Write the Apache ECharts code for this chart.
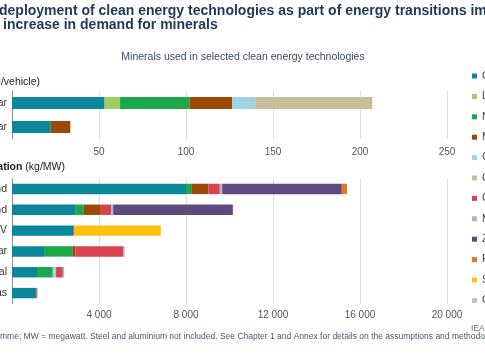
<!DOCTYPE html>
<html>
<head>
<meta charset="utf-8">
<script src="https://cdn.jsdelivr.net/npm/echarts@6/dist/echarts.min.js"></script>
<style>
html,body{margin:0;padding:0;background:#fff;overflow:hidden;}
#chart{width:485px;height:360px;}
</style>
</head>
<body>
<div id="chart"></div>
<script>
// ---- data ----
const minerals = ['Copper','Lithium','Nickel','Manganese','Cobalt','Graphite','Chromium','Molybdenum','Zinc','Rare earths','Silicon','Others'];
const transportCategories = ['Electric car','Conventional car'];
const powerCategories = ['Offshore wind','Onshore wind','Solar PV','Nuclear','Coal','Natural gas'];
// values per mineral, in the order of `minerals`
const electricCar     = [53.2, 8.9, 39.9, 24.5, 13.3, 66.3, 0, 0, 0.1, 0.5, 0, 0.3];
const conventionalCar = [22.3, 0, 0, 11.2, 0, 0, 0, 0, 0, 0, 0, 0];
const offshoreWind    = [8000, 0, 240, 790, 0, 0, 525, 109, 5500, 239, 0, 0];
const onshoreWind     = [2900, 0, 404, 780, 0, 0, 470, 99, 5500, 14, 0, 0];
const solarPV         = [2822, 0, 0, 0, 0, 0, 0, 0, 30, 0, 3990, 0];
const nuclear         = [1473, 0, 1297, 148, 0, 0, 2190, 70, 0, 0, 0, 0];
const coal            = [1150, 0, 721, 5, 150, 0, 308, 66, 0, 0, 0, 0];
const naturalGas      = [1100, 0, 16, 0, 0, 0, 48, 0, 0, 0, 0, 0];
const transportTicks = [0, 50, 100, 150, 200, 250];
const powerTicks = [0, 4000, 8000, 12000, 16000, 20000];

const colors = ['#0b879c','#9ccf5b','#1ca84a','#9c4a08','#9fd3e3','#c8bf9a','#d9434f','#b4b0cc','#5d4a7e','#e5761f','#fdc00f','#c4c4c4'];

const transportRows = [electricCar, conventionalCar];
const powerRows = [offshoreWind, onshoreWind, solarPV, nuclear, coal, naturalGas];

const FF = 'Liberation Sans, Arial, Helvetica, sans-serif';
function textW(str, font){
  const c = document.createElement('canvas').getContext('2d');
  c.font = font; return c.measureText(str).width;
}
const titleFont = 'bold 14px ' + FF;
const footFont = '8.5px ' + FF;
const legendFont = '10.5px ' + FF;
const legendBoxW = 5 + 5 + Math.max.apply(null, minerals.map(m => textW(m, legendFont)));

const series = [];
minerals.forEach((m, i) => {
  series.push({
    name: m, type: 'bar', stack: 'transport', xAxisIndex: 0, yAxisIndex: 0,
    barWidth: '50%', itemStyle: {color: colors[i]},
    data: transportRows.map(r => r[i])
  });
  series.push({
    name: m, type: 'bar', stack: 'power', xAxisIndex: 1, yAxisIndex: 1,
    barWidth: '50%', itemStyle: {color: colors[i]},
    data: powerRows.map(r => r[i])
  });
});

const fmtSpace = v => String(v).replace(/\B(?=(\d{3})+(?!\d))/g, ' ');

const xCommon = {
  type: 'value',
  axisLine: {show: false}, axisTick: {show: false},
  splitLine: {lineStyle: {color: '#dedede', width: 1}},
  axisLabel: {color: '#555', fontSize: 10, fontFamily: FF, showMinLabel: false, margin: 8}
};
const yCommon = {
  type: 'category', inverse: true,
  axisLine: {lineStyle: {color: '#8f8f8f'}}, axisTick: {show: false},
  axisLabel: {color: '#333', fontSize: 10.5, fontFamily: FF, margin: 5}
};

const option = {
  animation: false,
  color: colors,
  grid: [
    {left: 12, right: 38, top: 91, height: 48, containLabel: false, outerBoundsMode: 'none'},
    {left: 12, right: 38, top: 178.5, height: 125, containLabel: false, outerBoundsMode: 'none'}
  ],
  xAxis: [
    Object.assign({}, xCommon, {gridIndex: 0, min: transportTicks[0], max: transportTicks[transportTicks.length-1], interval: transportTicks[1]-transportTicks[0]}),
    Object.assign({}, xCommon, {gridIndex: 1, min: powerTicks[0], max: powerTicks[powerTicks.length-1], interval: powerTicks[1]-powerTicks[0],
      axisLabel: Object.assign({}, xCommon.axisLabel, {formatter: fmtSpace, margin: 7})})
  ],
  yAxis: [
    Object.assign({}, yCommon, {gridIndex: 0, data: transportCategories}),
    Object.assign({}, yCommon, {gridIndex: 1, data: powerCategories})
  ],
  legend: {
    type: 'plain', orient: 'vertical', align: 'left',
    right: 485 - 472 - legendBoxW, top: 70, padding: 0,
    data: minerals, icon: 'rect', itemWidth: 5, itemHeight: 5, itemGap: 8.4,
    textStyle: {color: '#444', fontSize: 10.5, fontFamily: FF, lineHeight: 12},
    selectedMode: false
  },
  graphic: [
    {type: 'text', x: -textW('The rapid ', titleFont) - 1, y: 11,
      style: {text: 'The rapid deployment of clean energy technologies as part of energy transitions implies a', font: titleFont, fill: '#22395c', verticalAlign: 'middle'}},
    {type: 'text', x: 3 - textW('significant ', titleFont), y: 25.5,
      style: {text: 'significant increase in demand for minerals', font: titleFont, fill: '#22395c', verticalAlign: 'middle'}},
    {type: 'text', x: 243, y: 57,
      style: {text: 'Minerals used in selected clean energy technologies', font: '10.5px ' + FF, fill: '#3b4a63', align: 'center', verticalAlign: 'middle'}},
    {type: 'text', x: 40, y: 82,
      style: {text: '{b|Transport} (kg/vehicle)', font: '10.5px ' + FF, fill: '#222', align: 'right', verticalAlign: 'middle',
        rich: {b: {fontWeight: 'bold', fontSize: 10.5, fontFamily: FF, fill: '#222'}}}},
    {type: 'text', x: 65, y: 167,
      style: {text: '{b|Power generation} (kg/MW)', font: '10.5px ' + FF, fill: '#222', align: 'right', verticalAlign: 'middle',
        rich: {b: {fontWeight: 'bold', fontSize: 10.5, fontFamily: FF, fill: '#222'}}}},
    {type: 'text', x: 471, y: 329,
      style: {text: 'IEA. All rights reserved.', font: footFont, fill: '#777', verticalAlign: 'middle'}},
    {type: 'text', x: -textW('Notes: kg = kilogra', footFont), y: 337,
      style: {text: 'Notes: kg = kilogramme; MW = megawatt. Steel and aluminium not included. See Chapter 1 and Annex for details on the assumptions and methodology.', font: footFont, fill: '#4a5870', verticalAlign: 'middle'}}
  ],
  series: series
};

const chart = echarts.init(document.getElementById('chart'), null, {renderer: 'canvas'});
chart.setOption(option);
</script>
</body>
</html>
